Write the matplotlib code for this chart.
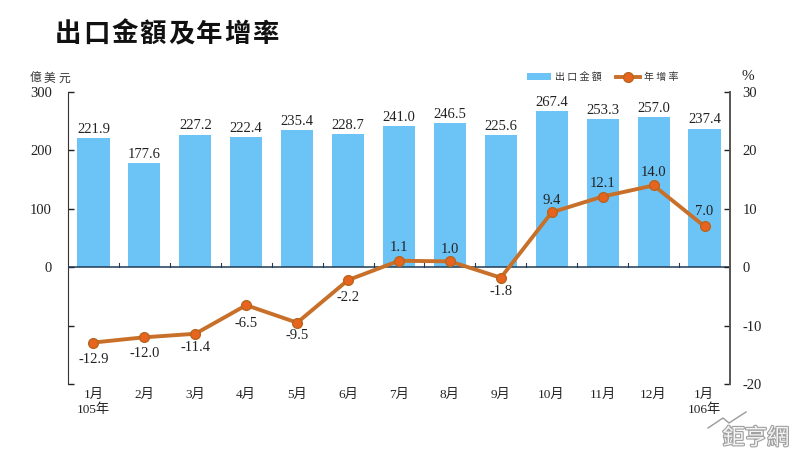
import numpy as np
import matplotlib
matplotlib.use("Agg")
import matplotlib.pyplot as plt
import matplotlib.patheffects as pe

plt.rcParams['axes.unicode_minus'] = False

cjk = ['Noto Sans CJK TC', 'DejaVu Sans']
mixed = ['Liberation Serif', 'Noto Sans CJK TC']

months = ['1月', '2月', '3月', '4月', '5月', '6月', '7月', '8月', '9月', '10月', '11月', '12月', '1月']
years = {0: '105年', 12: '106年'}
exports = [221.9, 177.6, 227.2, 222.4, 235.4, 228.7, 241.0, 246.5, 225.6, 267.4, 253.3, 257.0, 237.4]
growth = [-12.9, -12.0, -11.4, -6.5, -9.5, -2.2, 1.1, 1.0, -1.8, 9.4, 12.1, 14.0, 7.0]
left_ticks = [300, 200, 100, 0, -100, -200]
left_labels = ['300', '200', '100', '0', '', '']
right_ticks = [30, 20, 10, 0, -10, -20]

# how far each growth label sits from its marker, in pixels (+ is up)
label_gap = [-17, -16, -14, -18, -13, -17, 13, 12, -14, 12, 13, 13, 15]

BAR = '#6cc4f6'
LINE = '#c8702a'
DOT = '#e8641e'
INK = '#222222'

W, H = 800, 449
fig = plt.figure(figsize=(8, 4.49), dpi=100)
ax = fig.add_axes([68 / W, 1 - 384 / H, 662 / W, 292 / H])
ax2 = ax.twinx()
x = np.arange(len(months))

bars = ax.bar(x, exports, width=0.63, color=BAR, label='出口金額', zorder=2)
line, = ax2.plot(x, growth, color=LINE, lw=2.8, marker='o', ms=7, mfc=DOT, mec='#b8651f', mew=1,
                 label='年增率', zorder=4)

ax.set_xlim(-0.5, 12.5)
ax.set_ylim(-200, 300)
ax2.set_ylim(-20, 30)
ax.set_yticks(left_ticks, left_labels)
ax2.set_yticks(right_ticks)
ax.set_xticks([])
ax2.set_xticks([])

for a, pad in ((ax, 11.5), (ax2, 9)):
    a.patch.set_visible(False)
    for s in ('top', 'bottom'):
        a.spines[s].set_visible(False)
    a.tick_params(axis='y', direction='in', length=4, width=1, colors=INK, labelsize=10.5, pad=pad)
    for t in a.get_yticklabels():
        t.set_family('Liberation Serif')
ax.spines['right'].set_visible(False)
ax2.spines['left'].set_visible(False)
ax.spines['left'].set_color('#333333')
ax2.spines['right'].set_color('#555555')
ax2.spines['right'].set_linewidth(1.4)
ax.axhline(0, color='#1f3a55', lw=1.1, zorder=3)

# zero line ticks between the months
for b in np.arange(0.5, 12):
    ax.plot([b, b], [0, 7], color='#1f3a55', lw=0.8, zorder=3)

for i, v in enumerate(exports):
    ax.annotate(f'{v:.1f}', (i, v), xytext=(0, 1.5), textcoords='offset points', ha='center', va='bottom',
                family='Liberation Serif', fontsize=10.5, color=INK)

for i, v in enumerate(growth):
    ax2.annotate(f'{v:.1f}', (i, v), xytext=(0, label_gap[i] * 0.72), textcoords='offset points', ha='center',
                 va='center', family='Liberation Serif', fontsize=10.5, color=INK, zorder=5)

for i, m in enumerate(months):
    fig.text((68 + 50.9 * (i + 0.5)) / W, 1 - 395 / H, m, ha='center', va='center', family=mixed,
             fontsize=9.5, color=INK)
for i, y in years.items():
    fig.text((68 + 50.9 * (i + 0.5)) / W, 1 - 410 / H, y, ha='center', va='center', family=mixed,
             fontsize=9.5, color=INK)

# title has wide letter spacing
title = '出口金額及年增率'
for i, c in enumerate(title):
    fig.text((68 + 28.3 * i) / W, 1 - 34 / H, c, ha='center', va='center', family=cjk, fontsize=19,
             weight='bold', color='#111111')

for i, c in enumerate('億美元'):
    fig.text((35 + 14.5 * i) / W, 1 - 78 / H, c, ha='center', va='center', family=cjk, fontsize=8.5, color='#333333')
fig.text(748 / W, 1 - 76 / H, '%', ha='center', va='center', family='Liberation Serif', fontsize=11, color=INK)

fig.legend(handles=[bars, line], labels=['出 口 金 額', '年 增 率'], ncol=2, frameon=False,
           loc='center', bbox_to_anchor=(603 / W, 1 - 77 / H), prop={'family': cjk, 'size': 7.2},
           handlelength=2.4, handleheight=0.6, columnspacing=1.4, handletextpad=0.4, labelcolor='#333333')

# watermark
fig.add_artist(plt.Line2D(np.array([708, 723, 729, 746]) / W,
                          1 - np.array([428, 418, 423, 412]) / H, color='#9a9a9a', lw=1))
fig.text(756 / W, 1 - 438 / H, '鉅亨網', ha='center', va='center', family=cjk, fontsize=16, color='#f4f4f4',
         path_effects=[pe.withStroke(linewidth=1.6, foreground='#a0a0a0')])

fig.savefig('out.png', dpi=100)
